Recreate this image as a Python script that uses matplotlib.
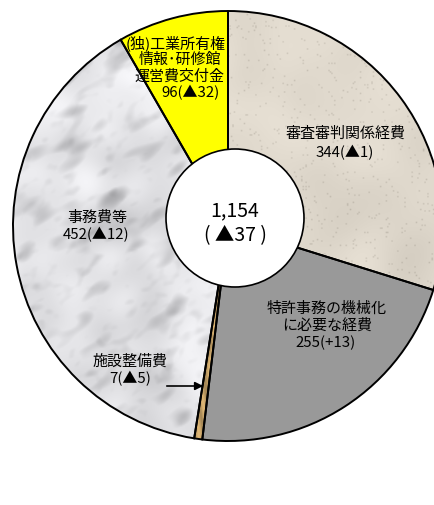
import numpy as np
import matplotlib
matplotlib.use("Agg")
import matplotlib.pyplot as plt
from matplotlib.patches import Circle, Wedge

plt.rcParams['font.family'] = ['Noto Sans CJK JP', 'DejaVu Sans']

# 予算内訳（億円）: 12時から時計回り
names = ['審査審判関係経費', '特許事務の機械化に必要な経費', '施設整備費', '事務費等',
         '(独)工業所有権情報・研修館運営費交付金']
values = [344, 255, 7, 452, 96]
labels = [
    ['審査審判関係経費', '344(▲1)'],
    ['特許事務の機械化', 'に必要な経費', '255(+13)'],
    ['施設整備費', '7(▲5)'],
    ['事務費等', '452(▲12)'],
    ['(独)工業所有権', '情報･研修館', '運営費交付金', '96(▲32)'],
]
total_text = ['1,154', '( ▲37 )']

W, H = 434, 506
fig = plt.figure(figsize=(W / 100, H / 100), dpi=100)
ax = fig.add_axes([0, 0, 1, 1])

cx, cy, r = 228, H - 227, 215
base_colors = ['#e2dbcf', '#999999', '#d6b878', '#e2e2e4', '#ffff00']
wedges, _ = ax.pie(values, colors=base_colors, startangle=90, counterclock=False,
                   center=(cx, cy), radius=r, frame=True,
                   wedgeprops=dict(edgecolor='none', linewidth=0))
ax.set_xlim(0, W)
ax.set_ylim(0, H)
ax.set_aspect('equal')
ax.axis('off')

# 塗りの質感
rng = np.random.default_rng(11)
ny, nx = 300, 300
fy = np.fft.fftfreq(ny)[:, None]
fx = np.fft.fftfreq(nx)[None, :]


def smooth(a, s, stretch=1.0, ang=0.0):
    u = fx * np.cos(ang) + fy * np.sin(ang)
    v = -fx * np.sin(ang) + fy * np.cos(ang)
    out = np.real(np.fft.ifft2(np.fft.fft2(a) * np.exp(-(u**2 * stretch + v**2 / stretch) * s)))
    return out / out.std()


yy, xx = np.mgrid[0:ny, 0:nx]

# 紙のような粒
speck = rng.random((ny, nx))
paper = np.ones((ny, nx, 3)) * np.array([226, 219, 207]) / 255
paper -= (speck > 0.975)[..., None] * 0.10
paper += (smooth(rng.standard_normal((ny, nx)), 3000) * 0.012)[..., None]

# 大理石（雲状のまだら模様）
cloud = smooth(rng.standard_normal((ny, nx)), 1500)
streak = smooth(rng.standard_normal((ny, nx)), 300, stretch=2.2, ang=0.6)
fine = smooth(rng.standard_normal((ny, nx)), 80, stretch=1.5, ang=0.6)
marble = 0.895 + 0.03 * cloud
marble -= 0.07 * np.clip(streak - 0.5, 0, None)
marble -= 0.03 * np.clip(fine - 0.7, 0, None)
marble = np.clip(marble, 0.64, 0.97)
marble_rgb = np.dstack([marble, marble, marble + 0.012])

# 木目
wood = 0.80 + 0.12 * np.sin(xx * 0.9 + cloud * 2)
wood_rgb = np.dstack([wood * 0.95, wood * 0.78, wood * 0.50])

textures = {0: paper, 2: wood_rgb, 3: marble_rgb}
for i, tex in textures.items():
    im = ax.imshow(np.clip(tex, 0, 1), extent=(cx - r, cx + r, cy - r, cy + r),
                   origin='lower', interpolation='bilinear', zorder=1.5)
    im.set_clip_path(wedges[i])
for w in wedges:
    ax.add_patch(Wedge(w.center, w.r, w.theta1, w.theta2, facecolor='none',
                       edgecolor='black', linewidth=1.4, zorder=2))

# 中央の合計
ax.add_patch(Circle((235, H - 219), 69, facecolor='white', edgecolor='black',
                    linewidth=1.2, zorder=3))
ax.text(235, H - 211, total_text[0], ha='center', va='center', fontsize=14, zorder=4)
ax.text(235, H - 236, total_text[1], ha='center', va='center', fontsize=14, zorder=4)

# ラベル位置（各行の中心）
label_pos = [
    [(346, 134), (345, 153)],
    [(327, 309), (327, 326), (326, 343)],
    [(130, 362), (130, 379)],
    [(97, 218), (96, 235)],
    [(176, 43), (180, 60), (179, 77), (190, 93)],
]
for lines, pos in zip(labels, label_pos):
    for s, (x, y) in zip(lines, pos):
        ax.text(x, H - y, s, ha='center', va='center', fontsize=10.8, zorder=4)

ax.annotate('', xy=(206, H - 387), xytext=(164, H - 387),
            arrowprops=dict(arrowstyle='-|>', color='black', lw=1.2, mutation_scale=12),
            zorder=4)

fig.savefig('out.png', dpi=100)
